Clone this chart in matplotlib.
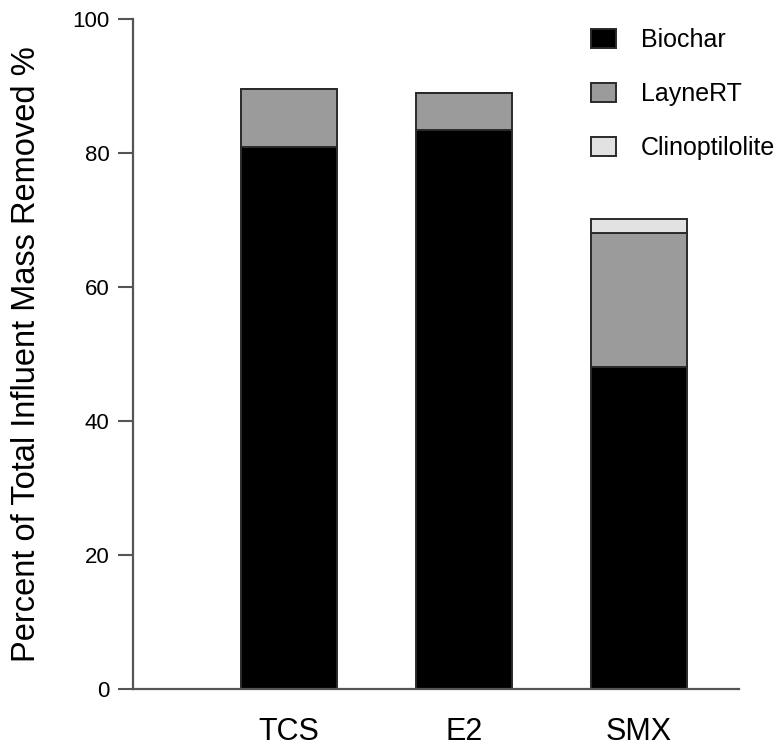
import matplotlib
matplotlib.use("Agg")
import matplotlib.pyplot as plt
import numpy as np

plt.rcParams['font.family'] = ['Liberation Sans', 'DejaVu Sans']

categories = ["TCS", "E2", "SMX"]
biochar = [80.9, 83.4, 48.1]
layne_total = [89.5, 89.0, 68.1]
clino_total = [89.5, 89.0, 70.1]

layne = [t - b for t, b in zip(layne_total, biochar)]
clino = [c - t for c, t in zip(clino_total, layne_total)]

fig = plt.figure(figsize=(7.78, 7.47), dpi=100)
ax = fig.add_axes([133/778, 1 - 689/747, (739-133)/778, (689-19)/747])

x = np.arange(len(categories))
w = 0.55
edge = '#2a2a2a'
lw = 1.4
ax.bar(x, biochar, w, color='black', edgecolor=edge, linewidth=lw, label='Biochar')
ax.bar(x, layne, w, bottom=biochar, color='#9b9b9b', edgecolor=edge, linewidth=lw, label='LayneRT')
ax.bar(x, clino, w, bottom=layne_total, color='#e2e2e2', edgecolor=edge, linewidth=lw, label='Clinoptilolite')

ax.set_xlim(-0.89, 2.57)
ax.set_ylim(0, 100)
ax.set_yticks([0, 20, 40, 60, 80, 100])
ax.set_xticks(x)
ax.set_xticklabels(categories, fontsize=22)
ax.tick_params(axis='x', length=0, pad=20)
ax.tick_params(axis='y', length=11, width=1.5, color='#555555', labelsize=16, pad=6)

for s in ['top', 'right']:
    ax.spines[s].set_visible(False)
for s in ['left', 'bottom']:
    ax.spines[s].set_color('#555555')
    ax.spines[s].set_linewidth(1.6)

ax.set_ylabel("Percent of Total Influent Mass Removed %", fontsize=23.5, labelpad=22)

leg = ax.legend(loc='upper left', bbox_to_anchor=(591/778, 1 - 28/747),
                bbox_transform=fig.transFigure, frameon=False, fontsize=18,
                handlelength=1.0, handleheight=0.8, handletextpad=1.0,
                labelspacing=1.2, borderpad=0, borderaxespad=0)

fig.savefig("out.png", dpi=100)
